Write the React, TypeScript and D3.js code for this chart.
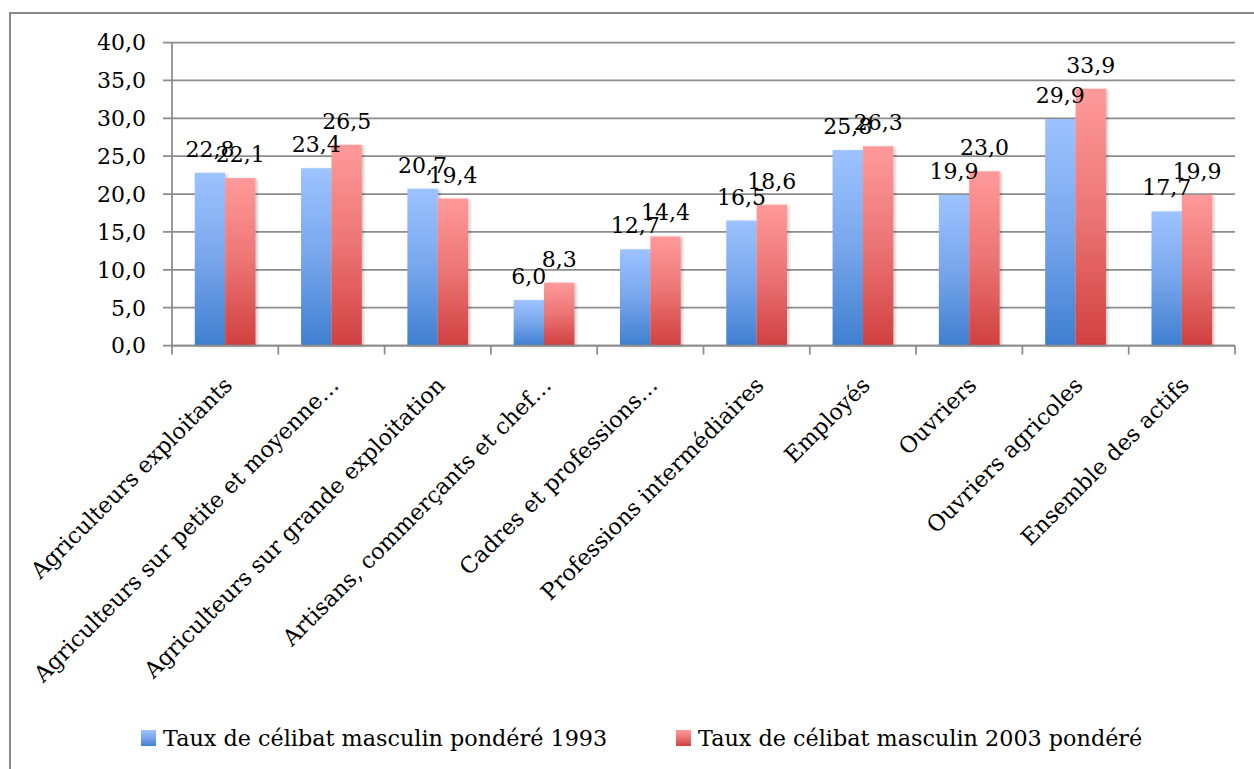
import React from 'react';
import * as d3 from 'd3';

const WIDTH = 1254;
const HEIGHT = 769;

const categories = [
  'Agriculteurs exploitants',
  'Agriculteurs sur petite et moyenne…',
  'Agriculteurs sur grande exploitation',
  'Artisans, commerçants et chef…',
  'Cadres et professions…',
  'Professions intermédiaires',
  'Employés',
  'Ouvriers',
  'Ouvriers agricoles',
  'Ensemble des actifs',
];
const values1993 = [22.8, 23.4, 20.7, 6.0, 12.7, 16.5, 25.8, 19.9, 29.9, 17.7];
const values2003 = [22.1, 26.5, 19.4, 8.3, 14.4, 18.6, 26.3, 23.0, 33.9, 19.9];
const seriesNames = ['Taux de célibat masculin pondéré 1993', 'Taux de célibat masculin 2003 pondéré'];
const yTicks = [0, 5, 10, 15, 20, 25, 30, 35, 40];

const FONT = '"DejaVu Serif", serif';
const GRID = '#8c8c8c';
const fmt = (v: number) => v.toFixed(1).replace('.', ',');

export default function App() {
  const margin = { top: 42.5, right: 19, bottom: 423.5, left: 172 };
  const x = d3.scaleBand<string>().domain(categories).range([margin.left, WIDTH - margin.right]);
  const y = d3.scaleLinear().domain([0, 40]).range([HEIGHT - margin.bottom, margin.top]);
  const step = x.step();
  const barW = step / 3.5; // excel gap width 150%
  const series = [values1993, values2003];
  const fills = ['url(#gBlue)', 'url(#gRed)'];

  return (
    <svg width={WIDTH} height={HEIGHT} style={{ position: 'absolute', left: 0, top: 0, background: '#fff' }}>
      <defs>
        <linearGradient id="gBlue" x1="0" y1="0" x2="0" y2="1">
          <stop offset="0" stopColor="#9dc3ff" />
          <stop offset="0.5" stopColor="#78a6ec" />
          <stop offset="1" stopColor="#3f7fd0" />
        </linearGradient>
        <linearGradient id="gRed" x1="0" y1="0" x2="0" y2="1">
          <stop offset="0" stopColor="#ff9a9a" />
          <stop offset="0.5" stopColor="#ec7474" />
          <stop offset="1" stopColor="#d04040" />
        </linearGradient>
        <filter id="shadow" x="-20%" y="-5%" width="150%" height="115%">
          <feDropShadow dx="2" dy="1" stdDeviation="1.5" floodColor="#000" floodOpacity="0.22" />
        </filter>
      </defs>

      <rect x={10} y={13} width={1260} height={780} fill="#fff" stroke="#8a8a8a" strokeWidth={2} />

      {/* gridlines and y axis */}
      {yTicks.map((t) => (
        <g key={t}>
          <line x1={margin.left - 9} x2={WIDTH - margin.right} y1={y(t)} y2={y(t)} stroke={GRID} strokeWidth={1.75} />
          <text x={146} y={y(t)} dy="0.36em" textAnchor="end" fontFamily={FONT} fontSize={22} fill="#000">
            {fmt(t)}
          </text>
        </g>
      ))}
      <line x1={margin.left} x2={margin.left} y1={y(40)} y2={y(0)} stroke={GRID} strokeWidth={1.75} />

      {/* bars */}
      {series.map((vals, si) =>
        vals.map((v, i) => {
          const bx = (x(categories[i]) as number) + step / 2 - barW + si * barW;
          return (
            <rect
              key={`${si}-${i}`}
              x={bx}
              y={y(v)}
              width={barW}
              height={y(0) - y(v)}
              fill={fills[si]}
              filter="url(#shadow)"
            />
          );
        })
      )}

      {/* x axis */}
      <line x1={margin.left} x2={WIDTH - margin.right} y1={y(0)} y2={y(0)} stroke={GRID} strokeWidth={1.75} />
      {categories.concat(['']).map((c, i) => {
        const tx = margin.left + i * step;
        return <line key={i} x1={tx} x2={tx} y1={y(0)} y2={y(0) + 9} stroke={GRID} strokeWidth={1.75} />;
      })}

      {/* data labels */}
      {series.map((vals, si) =>
        vals.map((v, i) => {
          const cx = (x(categories[i]) as number) + step / 2 - barW + si * barW + barW / 2;
          return (
            <text key={`l${si}-${i}`} x={cx} y={y(v) - 16} textAnchor="middle" fontFamily={FONT} fontSize={22} fill="#000">
              {fmt(v)}
            </text>
          );
        })
      )}

      {/* category labels */}
      {categories.map((c) => {
        const cx = (x(c) as number) + step / 2;
        return (
          <text
            key={c}
            transform={`translate(${cx + 3},${381}) rotate(-45)`}
            dy="0.35em"
            textAnchor="end"
            fontFamily={FONT}
            fontSize={22.4}
            fill="#000"
          >
            {c}
          </text>
        );
      })}

      {/* legend */}
      {seriesNames.map((n, si) => {
        const lx = si === 0 ? 141 : 676;
        return (
          <g key={n}>
            <rect x={lx} y={730} width={15} height={16} fill={fills[si]} />
            <text x={lx + 22} y={746} fontFamily={FONT} fontSize={22.3} fill="#000">
              {n}
            </text>
          </g>
        );
      })}
    </svg>
  );
}
